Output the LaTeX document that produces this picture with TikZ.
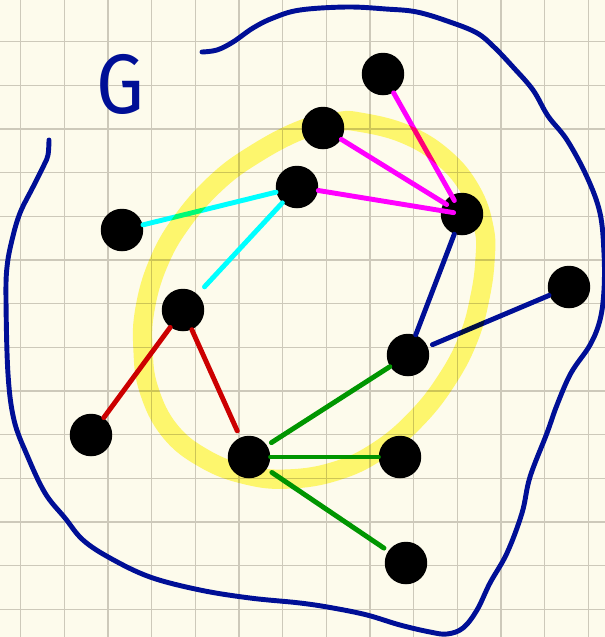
\documentclass[tikz,border=0pt]{standalone}
\usepackage{fontspec}
\newfontfamily\handfont{Fira Sans}
\usepackage{tikz}
\definecolor{paper}{RGB}{253, 251, 236}
\definecolor{gridgray}{RGB}{205, 201, 186}
\definecolor{inkblue}{RGB}{0, 15, 150}
\definecolor{inkcyan}{RGB}{0, 255, 255}
\definecolor{inkmagenta}{RGB}{255, 0, 255}
\definecolor{inkred}{RGB}{204, 0, 0}
\definecolor{inkgreen}{RGB}{0, 150, 0}
\definecolor{highlight}{RGB}{255, 250, 118}

\begin{document}
\begin{tikzpicture}[x=0.02cm, y=-0.02cm,
    vertex/.style={circle, fill=black, inner sep=0pt, minimum size=0.85cm},
    edge/.style={line width=2.8pt, line cap=round},
    gridline/.style={draw=gridgray, line width=0.7pt},
    outline/.style={draw=inkblue, line width=2.8pt, line cap=round, line join=round},
    marker/.style={draw=highlight, line width=11pt}
]
    % Paper
    \fill[paper] (0,0) rectangle (605,637);
    \useasboundingbox (0,0) rectangle (605,637);
    \foreach \i in {0,...,13} {
        \draw[gridline] ({20.7+43.66*\i},0) -- ({20.7+43.66*\i},637);
        \draw[gridline] (0,{41.7+43.66*\i}) -- (605,{41.7+43.66*\i});
    }

    % Outline of G
    \draw[outline] plot[smooth, tension=0.6] coordinates {
        (202,52) (217,50) (233,42) (253,28) (273,18) (300,10) (347,7)
        (386,9) (417,12) (450,22) (477,33) (494,47) (513,67) (533,90)
        (548,116) (567,140) (587,177) (600,213) (604,253) (604,290)
        (600,320) (590,345) (571,373) (557,405) (547,433) (530,477)
        (522,513) (507,553) (490,583) (477,610) (463,628) (447,634)
        (430,632) (400,625) (367,615) (333,608) (300,603) (250,598)
        (200,590) (150,577) (110,558) (83,540) (65,518) (45,493)
        (27,455) (14,420) (8,374) (6,300) (7,267) (12,240) (20,213)
        (33,187) (44,165) (48,155) (49,140)};
    \node[text=inkblue, font=\handfont\fontsize{48}{48}\selectfont, inner sep=0pt, xscale=0.9] (glabel) at (120,84) {G};

    % Nodes
    \node[vertex] (a) at (122,230) {};
    \node[vertex] (b) at (297,187) {};
    \node[vertex] (c) at (323,128) {};
    \node[vertex] (d) at (383,74) {};
    \node[vertex] (e) at (462,214) {};
    \node[vertex] (f) at (569,287) {};
    \node[vertex] (g) at (183,310) {};
    \node[vertex] (h) at (91,435) {};
    \node[vertex] (i) at (249,457) {};
    \node[vertex] (j) at (408,355) {};
    \node[vertex] (k) at (400,457) {};
    \node[vertex] (l) at (406,563) {};

    % Edges
    \draw[edge, inkcyan] (a) -- (b);
    \draw[edge, inkcyan, shorten >=2mm] (b) -- (g);
    \draw[edge, inkmagenta, shorten >=3.1mm] (d) -- (e.center);
    \draw[edge, inkmagenta, shorten >=3.6mm] (c) -- (e.center);
    \draw[edge, inkmagenta, shorten >=1.7mm] (b) -- (e.center);
    \draw[edge, inkblue] (e) -- (j);
    \draw[edge, inkblue, shorten <=1mm] (j) -- (f);
    \draw[edge, inkred] (g) -- (h);
    \draw[edge, inkred, shorten >=1.4mm] (g) -- (i);
    \draw[edge, inkgreen, shorten <=1mm] (i) -- (j);
    \draw[edge, inkgreen] (i) -- (k);
    \draw[edge, inkgreen, shorten <=1.2mm, shorten >=1mm] (i) -- (l);

    % Highlighter ring
    \begin{scope}[blend mode=multiply]
        \draw[marker] plot[smooth cycle, tension=0.7] coordinates {
            (359,122) (405,134) (444,158) (471,191) (484,228) (485,260)
            (480,297) (469,337) (448,378) (417,418) (378,451) (336,471)
            (289,479) (247,475) (205,459) (170,431) (149,390) (143,349)
            (145,309) (158,264) (181,223) (216,183) (255,154) (301,130)
            (336,122)};
    \end{scope}
\end{tikzpicture}
\end{document}
